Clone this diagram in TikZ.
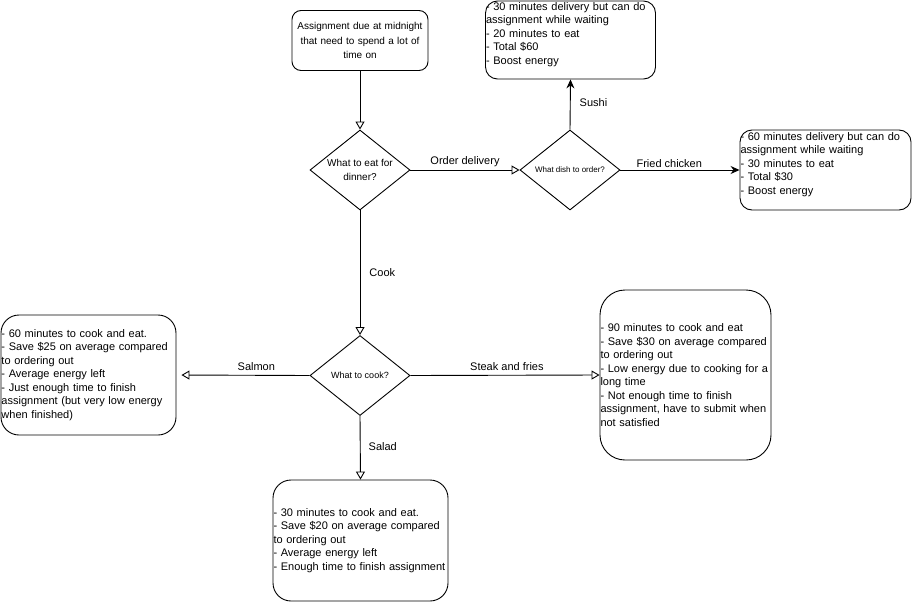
\documentclass[tikz,border=0pt]{standalone}
\usepackage{fontspec}
\setmainfont{Liberation Sans}
\usetikzlibrary{shapes.geometric,arrows.meta}
\tikzset{
  flow/.style={line width=0.9pt},
  openarr/.style={flow,-{Triangle[open,length=8pt,width=9pt]}},
  fillarr/.style={flow,-{Stealth[length=9pt,width=8pt,inset=3pt]}},
  decision/.style={diamond,draw,line width=0.9pt,inner sep=0pt,minimum width=100pt,minimum height=80pt,shape aspect=1.25,align=center},
  outcome/.style={rectangle,draw,line width=0.9pt,inner sep=0.5pt,align=left,font=\fontsize{11}{13.5}\selectfont},
  lbl/.style={font=\fontsize{11}{13}\selectfont,inner sep=1pt},
}
\begin{document}
\begin{tikzpicture}[x=1pt,y=-1pt]
    \useasboundingbox (0,0) rectangle (912,602);
    % question boxes
    \node[rectangle,draw,line width=0.9pt,rounded corners=9pt,inner sep=1pt,text width=134pt,minimum height=60pt,align=center,font=\fontsize{10}{14.5}\selectfont] (task) at (360,40.5) {Assignment due at midnight\\that need to spend a lot of\\time on};
    \node[decision,font=\fontsize{10}{14}\selectfont] (dinner) at (360,170) {What to eat for\\dinner?};
    \node[decision,font=\fontsize{8}{10}\selectfont] (dish) at (570,170) {What dish to order?};
    \node[decision,font=\fontsize{9}{11}\selectfont] (cook) at (360,375.5) {What to cook?};
    % outcomes
    \node[outcome,rounded corners=12pt,text width=169pt,minimum height=78pt] (sushi) at (570.5,40) {- 30 minutes delivery but can do\\assignment while waiting\\- 20 minutes to eat\\- Total \$60\\- Boost energy\\\mbox{}};
    \node[outcome,rounded corners=12pt,text width=170pt,minimum height=80pt] (chicken) at (825.5,170) {- 60 minutes delivery but can do\\assignment while waiting\\- 30 minutes to eat\\- Total \$30\\- Boost energy\\\mbox{}};
    \node[outcome,rounded corners=18pt,text width=174pt,minimum height=120pt] (salmon) at (88.5,375) {- 60 minutes to cook and eat.\\- Save \$25 on average compared\\to ordering out\\- Average energy left\\- Just enough time to finish\\assignment (but very low energy\\when finished)};
    \node[outcome,rounded corners=25pt,text width=170pt,minimum height=170pt] (steak) at (685.5,375) {- 90 minutes to cook and eat\\- Save \$30 on average compared\\to ordering out\\- Low energy due to cooking for a\\long time\\- Not enough time to finish\\assignment, have to submit when\\not satisfied};
    \node[outcome,rounded corners=18pt,text width=174pt,minimum height=121pt] (salad) at (360.5,540.5) {- 30 minutes to cook and eat.\\- Save \$20 on average compared\\to ordering out\\- Average energy left\\- Enough time to finish assignment};
    % connectors
    \draw[openarr] (task.south) -- (dinner.north);
    \draw[openarr] (dinner.east) -- node[lbl,above=2pt] (ldelivery) {Order delivery} (dish.west);
    \draw[fillarr] (dish.north) -- node[lbl,right=8pt,pos=0.54] (lsushi) {Sushi} (sushi.south);
    \draw[fillarr] (dish.east) -- node[lbl,above=1pt,pos=0.41] (lchicken) {Fried chicken} (chicken.west);
    \draw[openarr] (dinner.south) -- node[lbl,right=8pt] (lcook) {Cook} (cook.north);
    \draw[openarr,shorten >=5pt] (cook.west) -- node[lbl,above=3pt,pos=0.4] (lsalmon) {Salmon} (salmon.east);
    \draw[openarr] (cook.east) -- node[lbl,above=3pt,pos=0.51] (lsteak) {Steak and fries} (steak.west);
    \draw[openarr] (cook.south) -- node[lbl,right=7pt,pos=0.48] (lsalad) {Salad} (salad.north);
\end{tikzpicture}
\end{document}
